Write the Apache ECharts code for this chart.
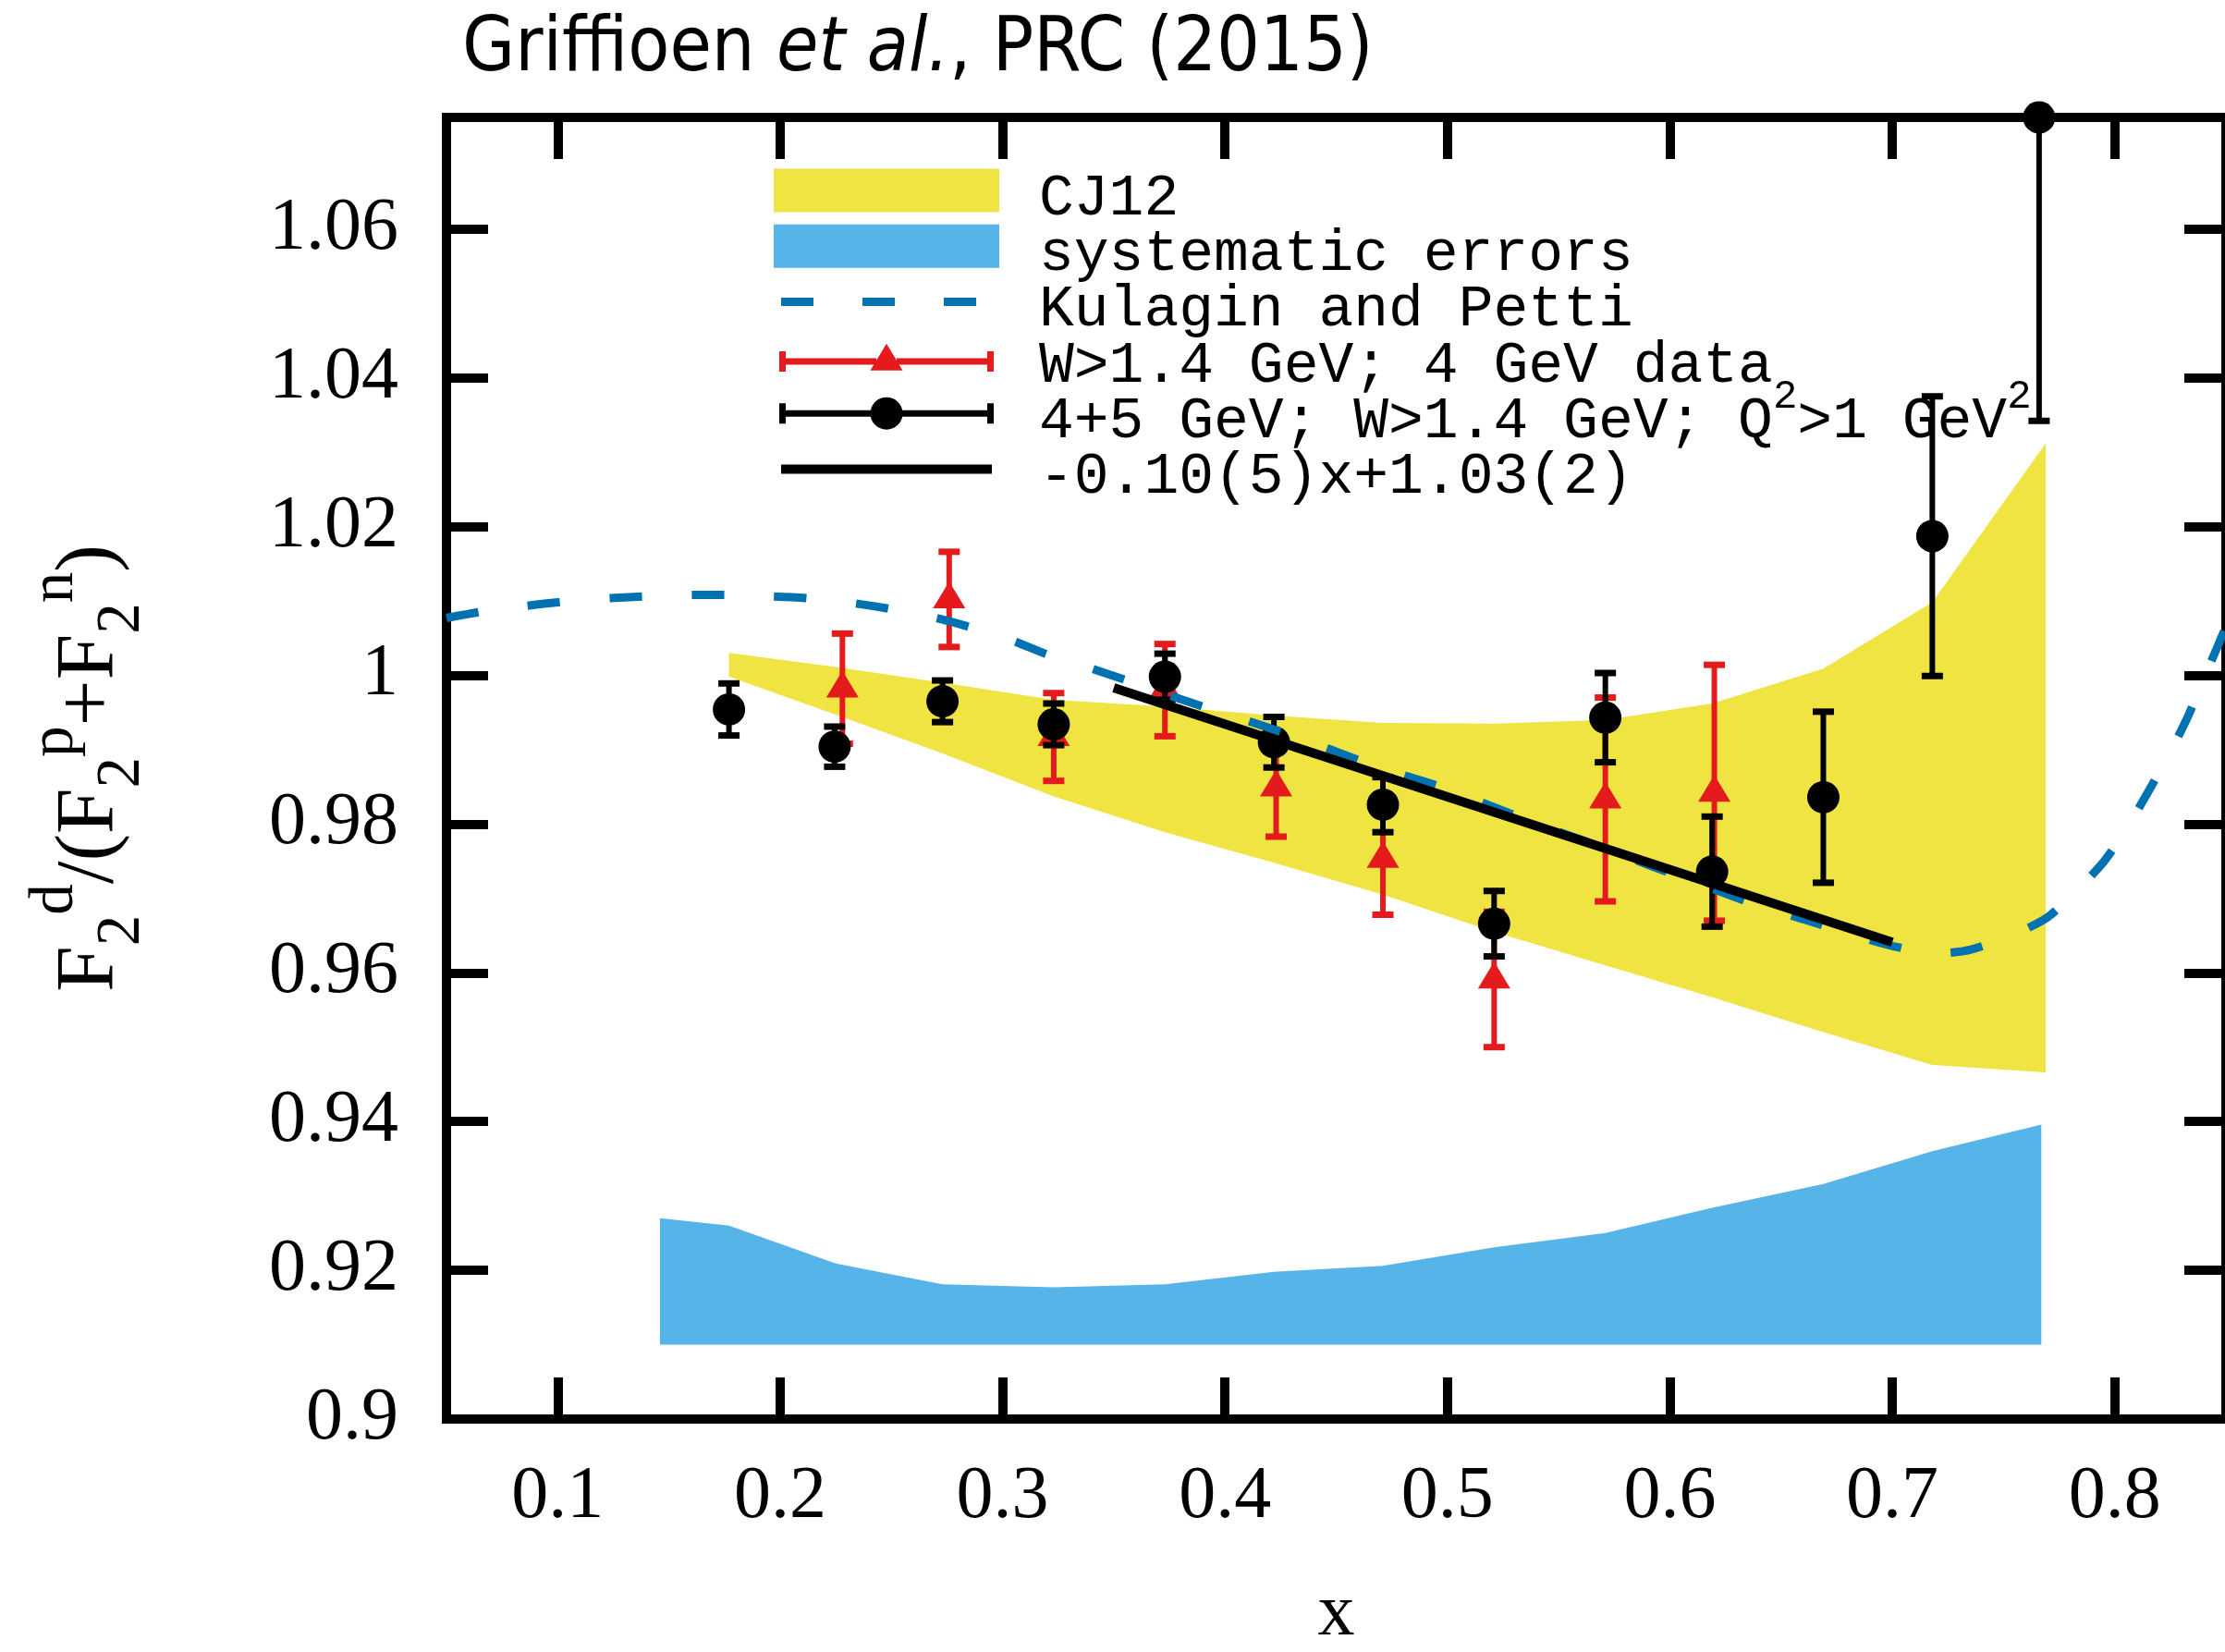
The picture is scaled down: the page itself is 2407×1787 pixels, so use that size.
<!DOCTYPE html>
<html><head><meta charset="utf-8">
<script src="https://cdn.jsdelivr.net/npm/echarts@6/dist/echarts.min.js"></script>
<style>html,body{margin:0;padding:0;background:#fff}#c{width:2407px;height:1787px}</style>
</head><body><div id="c"></div>
<script>
// ---------------- data ----------------
const xTicks = [0.1, 0.2, 0.3, 0.4, 0.5, 0.6, 0.7, 0.8];
const yTicks = [0.9, 0.92, 0.94, 0.96, 0.98, 1.0, 1.02, 1.04, 1.06];

const cjX     = [0.177, 0.225, 0.273, 0.323, 0.373, 0.422, 0.471, 0.521, 0.571, 0.619, 0.669, 0.718, 0.769];
const cjUpper = [1.0030, 1.0011, 0.9990, 0.9967, 0.9958, 0.9946, 0.9936, 0.9935, 0.9940, 0.9962, 1.0009, 1.0098, 1.0312];
const cjLower = [0.9998, 0.9947, 0.9895, 0.9837, 0.9789, 0.9748, 0.9705, 0.9655, 0.9610, 0.9567, 0.9520, 0.9476, 0.9466];

const sysX     = [0.146, 0.177, 0.225, 0.273, 0.323, 0.373, 0.422, 0.471, 0.521, 0.571, 0.619, 0.669, 0.718, 0.767];
const sysUpper = [0.9270, 0.9260, 0.9209, 0.9181, 0.9177, 0.9181, 0.9198, 0.9206, 0.9231, 0.9250, 0.9284, 0.9316, 0.9360, 0.9396];
const sysLower = [0.9100, 0.9100, 0.9100, 0.9100, 0.9100, 0.9100, 0.9100, 0.9100, 0.9100, 0.9100, 0.9100, 0.9100, 0.9100, 0.9100];

const kpX = [0.050, 0.065, 0.085, 0.100, 0.120, 0.140, 0.160, 0.175, 0.195, 0.210, 0.230, 0.250, 0.270, 0.285, 0.305, 0.320, 0.340, 0.355, 0.375, 0.390, 0.410, 0.425, 0.445, 0.460, 0.480, 0.495, 0.510, 0.525, 0.540, 0.560, 0.580, 0.600, 0.620, 0.640, 0.660, 0.680, 0.700, 0.720, 0.735, 0.755, 0.770, 0.785, 0.795, 0.805, 0.815, 0.825, 0.833, 0.840, 0.846, 0.850];
const kpY = [1.0077, 1.0085, 1.0093, 1.0098, 1.0103, 1.0106, 1.0108, 1.0108, 1.0106, 1.0104, 1.0098, 1.0089, 1.0077, 1.0065, 1.0046, 1.0028, 1.0009, 0.9994, 0.9973, 0.9958, 0.9939, 0.9924, 0.9903, 0.9886, 0.9866, 0.9852, 0.9835, 0.9818, 0.9800, 0.9779, 0.9757, 0.9734, 0.9712, 0.9690, 0.9672, 0.9653, 0.9636, 0.9626, 0.9631, 0.9652, 0.9675, 0.9717, 0.9749, 0.9792, 0.9843, 0.9897, 0.9945, 0.9995, 1.0037, 1.0065];

const redX   = [0.228, 0.276, 0.323, 0.373, 0.423, 0.471, 0.521, 0.571, 0.620];
const redY   = [0.9982, 1.0102, 0.9917, 0.9980, 0.9849, 0.9753, 0.9591, 0.9833, 0.9842];
const redErr = [0.0074, 0.0064, 0.0059, 0.0062, 0.0066, 0.0075, 0.0091, 0.0137, 0.0172];

const blackX   = [0.177, 0.2245, 0.273, 0.323, 0.373, 0.422, 0.471, 0.521, 0.571, 0.619, 0.669, 0.718, 0.766];
const blackY   = [0.9954, 0.9904, 0.9965, 0.9934, 0.9998, 0.9910, 0.9826, 0.9666, 0.9943, 0.9736, 0.9836, 1.0187, 1.0750];
const blackErr = [0.0035, 0.0027, 0.0028, 0.0028, 0.0031, 0.0034, 0.0037, 0.0044, 0.0060, 0.0074, 0.0115, 0.0188, 0.0408];

const fitX = [0.35, 0.70];
const fitY = [0.9983, 0.9641];

const X_MIN = 0.05, X_MAX = 0.85, Y_MIN = 0.9, Y_MAX = 1.075;

// ---------------- names ----------------
const N_CJ = 'CJ12';
const N_SYS = 'systematic errors';
const N_KP = 'Kulagin and Petti';
const N_RED = 'W>1.4 GeV; 4 GeV data';
const N_BLK = '4+5 GeV; W>1.4 GeV; Q²>1 GeV²';
const N_FIT = '-0.10(5)x+1.03(2)';

// ---------------- styles ----------------
const C_YEL = '#f0e442', C_SKY = '#56b4e9', C_KP = '#0072b2', C_RED = '#e41a1c', C_BLK = '#000000';
const SERIF = "'Liberation Serif', 'Times New Roman', serif";
const MONO = "'Liberation Mono', 'DejaVu Sans Mono', monospace";
const SANS = "'DejaVu Sans Condensed', 'Liberation Sans Narrow', Roboto, sans-serif";

function bandRender(xs, lo, hi, color) {
  return function (params, api) {
    if (params.dataIndexInside !== 0) return null;
    const pts = [];
    for (let i = 0; i < xs.length; i++) pts.push(api.coord([xs[i], hi[i]]));
    for (let i = xs.length - 1; i >= 0; i--) pts.push(api.coord([xs[i], lo[i]]));
    return { type: 'polygon', shape: { points: pts }, style: { fill: color } };
  };
}

function errRender(xs, ys, es, color, marker) {
  return function (params, api) {
    const i = params.dataIndex;
    const x = xs[i], y = ys[i], e = es[i];
    const hiV = Math.min(y + e, Y_MAX), loV = Math.max(y - e, Y_MIN);
    const c = api.coord([x, y]);
    const top = api.coord([x, hiV]);
    const bot = api.coord([x, loV]);
    const ch = [
      { type: 'line', shape: { x1: c[0], y1: top[1], x2: c[0], y2: bot[1] }, style: { stroke: color, lineWidth: 6 } }
    ];
    const capHalf = 11.5;
    if (y + e <= Y_MAX) ch.push({ type: 'line', shape: { x1: c[0] - capHalf, y1: top[1], x2: c[0] + capHalf, y2: top[1] }, style: { stroke: color, lineWidth: 7 } });
    if (y - e >= Y_MIN) ch.push({ type: 'line', shape: { x1: c[0] - capHalf, y1: bot[1], x2: c[0] + capHalf, y2: bot[1] }, style: { stroke: color, lineWidth: 7 } });
    if (marker === 'circle') {
      ch.push({ type: 'circle', shape: { cx: c[0], cy: c[1], r: 17.5 }, style: { fill: color } });
    } else {
      ch.push({ type: 'polygon', shape: { points: [[c[0], c[1] - 19.3], [c[0] + 17.5, c[1] + 9.7], [c[0] - 17.5, c[1] + 9.7]] }, style: { fill: color } });
    }
    return { type: 'group', children: ch };
  };
}

// legend icons (244 px wide boxes; hairline anchors at both ends keep the scale)
const ICON_DASH = 'path://M0 4 H0.01 V5 H0 Z M243.99 4 H244 V5 H243.99 Z M8 0 H43 V9 H8 Z M96 0 H131 V9 H96 Z M184 0 H219 V9 H184 Z';
const ICON_RED = 'path://M0 19 H0.01 V20 H0 Z M243.99 19 H244 V20 H243.99 Z M6 8.3 H13 V30.3 H6 Z M231 8.3 H238 V30.3 H231 Z M13 15.8 H111 V22.8 H13 Z M133 15.8 H231 V22.8 H133 Z M122 0 L139.5 29 L104.5 29 Z';
const ICON_BLK = 'path://M0 17 H0.01 V18 H0 Z M243.99 17 H244 V18 H243.99 Z M6 6.5 H13 V28.5 H6 Z M231 6.5 H238 V28.5 H231 Z M13 14 H105 V21 H13 Z M139 14 H231 V21 H139 Z M104.5 17.5 A17.5 17.5 0 1 1 139.5 17.5 A17.5 17.5 0 1 1 104.5 17.5 Z';
const ICON_FIT = 'path://M0 4.5 H0.01 V5.5 H0 Z M243.99 4.5 H244 V5.5 H243.99 Z M8 0 H236 V10 H8 Z';

const legendText = {};
legendText[N_BLK] = '{f|4+5 GeV; W>1.4 GeV; Q}{sup|2}{m|>1 GeV}{sup|2}';

const chart = echarts.init(document.getElementById('c'), null, { renderer: 'canvas' });

const tickLabel = v => String(+(+v).toFixed(2));

const xBase = {
  type: 'value', min: X_MIN, max: X_MAX,
  axisLine: { show: true, onZero: false, lineStyle: { color: '#000', width: 10, cap: 'square' } },
  axisTick: { show: true, inside: true, length: 45, customValues: xTicks, lineStyle: { color: '#000', width: 10 } },
  splitLine: { show: false }
};
const yBase = {
  type: 'value', min: Y_MIN, max: Y_MAX,
  axisLine: { show: true, onZero: false, lineStyle: { color: '#000', width: 10, cap: 'square' } },
  axisTick: { show: true, inside: true, length: 45, customValues: yTicks, lineStyle: { color: '#000', width: 10 } },
  splitLine: { show: false }
};

const option = {
  animation: false,
  backgroundColor: '#fff',
  title: {
    text: '{n|Griffioen }{i|et al.}{n|, PRC (2015)}',
    left: 500, top: 14, padding: 0,
    textStyle: {
      fontWeight: 'normal',
      rich: {
        n: { fontFamily: SANS, fontSize: 82, fontWeight: 'normal', color: '#000' },
        i: { fontFamily: SANS, fontSize: 82, fontWeight: 'normal', fontStyle: 'italic', color: '#000' }
      }
    }
  },
  grid: { left: 483, top: 127, width: 1925, height: 1408, containLabel: false, outerBoundsMode: 'none' },
  xAxis: [
    Object.assign({}, xBase, {
      position: 'bottom',
      name: 'x', nameLocation: 'middle', nameGap: 172,
      nameTextStyle: { fontFamily: SERIF, fontSize: 80, color: '#000' },
      axisLabel: { show: true, customValues: xTicks, formatter: tickLabel, margin: 45, fontFamily: SERIF, fontSize: 80, color: '#000' }
    }),
    Object.assign({}, xBase, { position: 'top', axisLabel: { show: false } })
  ],
  yAxis: [
    Object.assign({}, yBase, {
      position: 'left',
      name: '{m|F}{sb|2}{sp|d}{m|/(F}{sb|2}{sp|p}{m|+F}{sb|2}{sp|n}{m|)}',
      nameLocation: 'middle', nameRotate: 90, nameGap: 343,
      nameTextStyle: {
        color: '#000',
        rich: {
          m: { fontFamily: SERIF, fontSize: 89, color: '#000', lineHeight: 84, padding: [31, 0, 31, 0] },
          sb: { fontFamily: SERIF, fontSize: 67, color: '#000', lineHeight: 42, padding: [86, 0, 18, 0] },
          sp: { fontFamily: SERIF, fontSize: 67, color: '#000', lineHeight: 42, padding: [14, 0, 90, 0] }
        }
      },
      axisLabel: { show: true, customValues: yTicks, formatter: tickLabel, margin: 52, fontFamily: SERIF, fontSize: 80, color: '#000' }
    }),
    Object.assign({}, yBase, { position: 'right', axisLabel: { show: false } })
  ],
  legend: {
    orient: 'vertical', left: 837, top: 165.5, padding: 0,
    itemWidth: 244, itemHeight: 47, itemGap: -20.7,
    symbolKeepAspect: true, selectedMode: false,
    itemStyle: { borderWidth: 0 },
    data: [
      { name: N_CJ, icon: 'rect' },
      { name: N_SYS, icon: 'rect' },
      { name: N_KP, icon: ICON_DASH },
      { name: N_RED, icon: ICON_RED },
      { name: N_BLK, icon: ICON_BLK },
      { name: N_FIT, icon: ICON_FIT }
    ],
    formatter: name => legendText[name] || ('{f|' + name + '}'),
    textStyle: {
      color: '#000', fontFamily: MONO, fontSize: 63,
      rich: {
        f: { fontFamily: MONO, fontSize: 63, color: '#000', lineHeight: 62, padding: [18, 0, 0, 38] },
        m: { fontFamily: MONO, fontSize: 63, color: '#000', lineHeight: 62, padding: [18, 0, 0, 0] },
        sup: { fontFamily: MONO, fontSize: 44, color: '#000', lineHeight: 44, padding: [0, 0, 36, 0] }
      }
    }
  },
  series: [
    {
      name: N_CJ, type: 'custom', silent: true,
      itemStyle: { color: C_YEL },
      encode: { x: 0, y: [1, 2] },
      data: cjX.map((x, i) => [x, cjLower[i], cjUpper[i]]),
      renderItem: bandRender(cjX, cjLower, cjUpper, C_YEL)
    },
    {
      name: N_SYS, type: 'custom', silent: true,
      itemStyle: { color: C_SKY },
      encode: { x: 0, y: [1, 2] },
      data: sysX.map((x, i) => [x, sysLower[i], sysUpper[i]]),
      renderItem: bandRender(sysX, sysLower, sysUpper, C_SKY)
    },
    {
      name: N_KP, type: 'line', silent: true,
      color: C_KP, itemStyle: { color: C_KP },
      symbol: 'none', showSymbol: false, smooth: 0.25,
      lineStyle: { color: C_KP, width: 9, type: [35, 54], cap: 'butt' },
      data: kpX.map((x, i) => [x, kpY[i]])
    },
    {
      name: N_RED, type: 'custom', silent: true,
      itemStyle: { color: C_RED },
      encode: { x: 0, y: 1 },
      data: redX.map((x, i) => [x, redY[i]]),
      renderItem: errRender(redX, redY, redErr, C_RED, 'triangle')
    },
    {
      name: N_BLK, type: 'custom', silent: true,
      itemStyle: { color: C_BLK },
      encode: { x: 0, y: 1 },
      data: blackX.map((x, i) => [x, blackY[i]]),
      renderItem: errRender(blackX, blackY, blackErr, C_BLK, 'circle')
    },
    {
      name: N_FIT, type: 'line', silent: true,
      color: C_BLK, itemStyle: { color: C_BLK },
      symbol: 'none', showSymbol: false,
      lineStyle: { color: C_BLK, width: 10, cap: 'butt' },
      data: fitX.map((x, i) => [x, fitY[i]])
    }
  ]
};
chart.setOption(option);
</script>
</body></html>
